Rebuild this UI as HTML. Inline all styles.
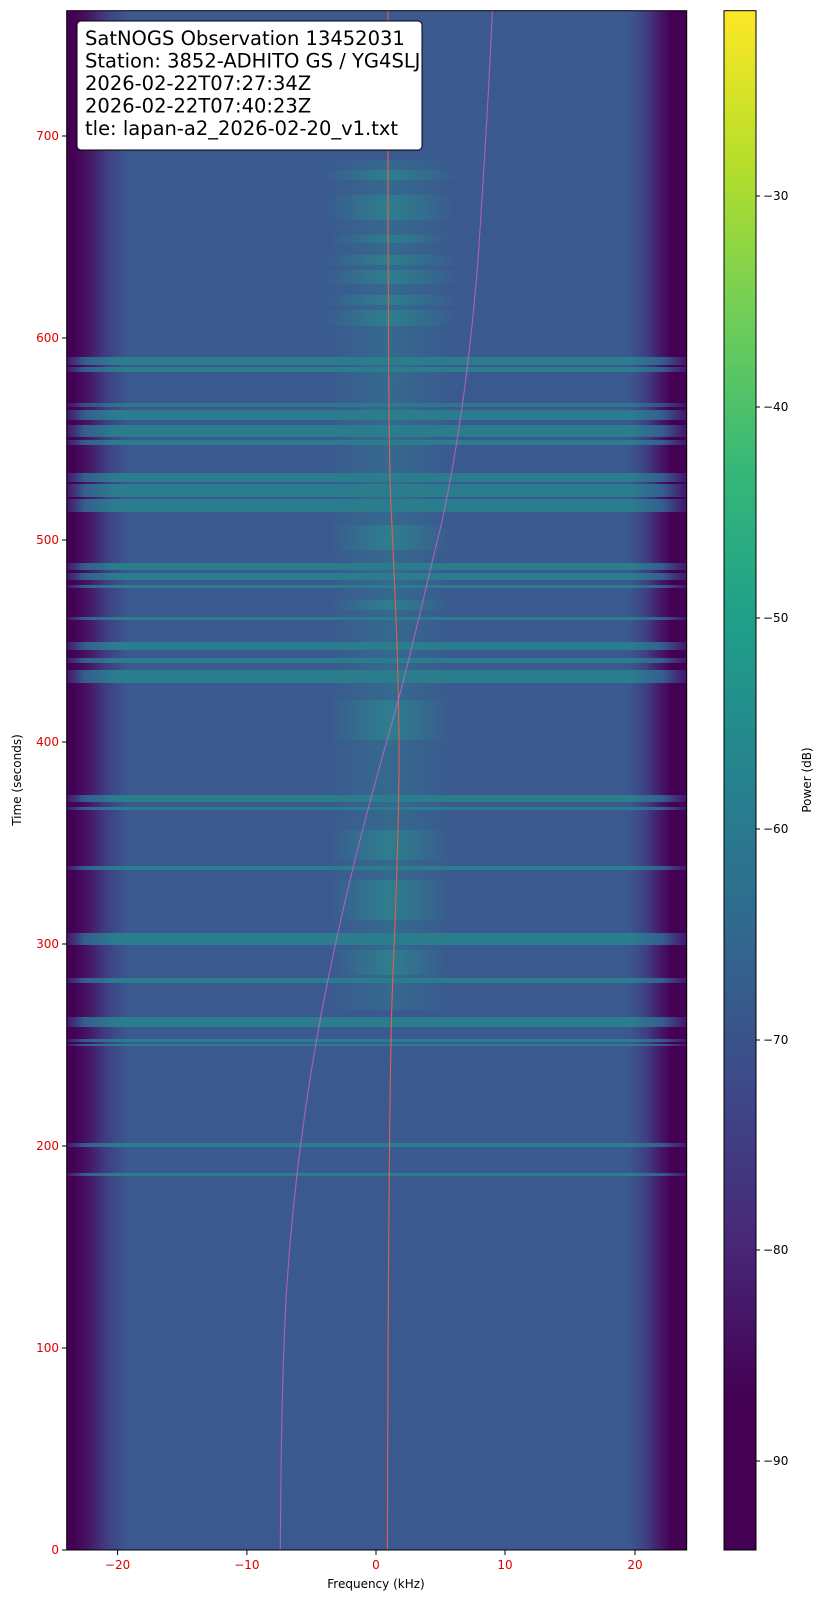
<!DOCTYPE html>
<html><head><meta charset="utf-8"><style>
html,body{margin:0;padding:0;background:#fff;}
svg{display:block;font-family:"DejaVu Sans","Liberation Sans",sans-serif;}
</style></head><body>
<svg width="823" height="1603" viewBox="0 0 823 1603" xmlns="http://www.w3.org/2000/svg">
<defs>
<linearGradient id="edge" x1="0" x2="1" y1="0" y2="0">
<stop offset="0" stop-color="#440154"/>
<stop offset="0.012" stop-color="#440154"/>
<stop offset="0.035" stop-color="#461565"/>
<stop offset="0.065" stop-color="#3f3f84"/>
<stop offset="0.1" stop-color="#3a5a8f"/>
<stop offset="0.905" stop-color="#3a5a8f"/>
<stop offset="0.935" stop-color="#3f3f84"/>
<stop offset="0.96" stop-color="#461565"/>
<stop offset="0.975" stop-color="#440154"/>
<stop offset="1" stop-color="#440154"/>
</linearGradient>
<linearGradient id="band" x1="0" x2="1" y1="0" y2="0">
<stop offset="0" stop-color="#46106a"/>
<stop offset="0.03" stop-color="#335f8d"/>
<stop offset="0.08" stop-color="#2b7d8e"/>
<stop offset="0.91" stop-color="#2b7d8e"/>
<stop offset="0.96" stop-color="#335f8d"/>
<stop offset="1" stop-color="#46106a"/>
</linearGradient>
<linearGradient id="glow" x1="0" x2="1" y1="0" y2="0">
<stop offset="0" stop-color="#2a8a8c" stop-opacity="0"/>
<stop offset="0.5" stop-color="#2a8a8c" stop-opacity="0.6"/>
<stop offset="1" stop-color="#2a8a8c" stop-opacity="0"/>
</linearGradient>
<linearGradient id="cb" x1="0" x2="0" y1="0" y2="1">
<stop offset="0" stop-color="#fde725"/>
<stop offset="0.1" stop-color="#b5de2b"/>
<stop offset="0.2" stop-color="#6ece58"/>
<stop offset="0.3" stop-color="#35b779"/>
<stop offset="0.4" stop-color="#1f9e89"/>
<stop offset="0.5" stop-color="#26828e"/>
<stop offset="0.6" stop-color="#31688e"/>
<stop offset="0.7" stop-color="#3e4989"/>
<stop offset="0.8" stop-color="#482878"/>
<stop offset="0.9" stop-color="#440154"/>
<stop offset="1" stop-color="#440154"/>
</linearGradient>
<clipPath id="pc"><rect x="66.7" y="10.7" width="620" height="1539.3"/></clipPath>
</defs>
<g clip-path="url(#pc)">
<rect x="66.7" y="10.7" width="620" height="1539.3" fill="url(#edge)"/>
<rect x="330" y="160" width="120" height="850" fill="url(#glow)" opacity="0.55"/>
<g fill="url(#glow)">
<rect x="320" y="170" width="140" height="10"/>
<rect x="325" y="195" width="130" height="25"/>
<rect x="330" y="235" width="120" height="8"/>
<rect x="320" y="255" width="140" height="10"/>
<rect x="320" y="270" width="140" height="14"/>
<rect x="320" y="295" width="140" height="10"/>
<rect x="320" y="310" width="140" height="16"/>
<rect x="330" y="600" width="120" height="10"/>
<rect x="330" y="525" width="120" height="25"/>
<rect x="330" y="700" width="120" height="40"/>
<rect x="330" y="830" width="120" height="30"/>
<rect x="330" y="880" width="120" height="40"/>
<rect x="335" y="950" width="110" height="25"/>
</g>
<g fill="url(#band)">
<rect x="66" y="357" width="621" height="8"/>
<rect x="66" y="367" width="621" height="5"/>
<rect x="66" y="403" width="621" height="4" opacity="0.8"/>
<rect x="66" y="410" width="621" height="10"/>
<rect x="66" y="425" width="621" height="12"/>
<rect x="66" y="440" width="621" height="5"/>
<rect x="66" y="473" width="621" height="9"/>
<rect x="66" y="484" width="621" height="13"/>
<rect x="66" y="499" width="621" height="13"/>
<rect x="66" y="563" width="621" height="7"/>
<rect x="66" y="573" width="621" height="7"/>
<rect x="66" y="585" width="621" height="3"/>
<rect x="66" y="617" width="621" height="3"/>
<rect x="66" y="642" width="621" height="8"/>
<rect x="66" y="658" width="621" height="5"/>
<rect x="66" y="670" width="621" height="13"/>
<rect x="66" y="795" width="621" height="7"/>
<rect x="66" y="807" width="621" height="3"/>
<rect x="66" y="866" width="621" height="4"/>
<rect x="66" y="933" width="621" height="12"/>
<rect x="66" y="978" width="621" height="5"/>
<rect x="66" y="1017" width="621" height="10"/>
<rect x="66" y="1039" width="621" height="3"/>
<rect x="66" y="1044" width="621" height="2"/>
<rect x="66" y="1143" width="621" height="4"/>
<rect x="66" y="1173" width="621" height="3"/>
</g>
<path d="M387.4,1550 C388,1300 389,1100 392,1000 C396,900 399,820 399,760 C399,650 393,560 390,480 C388,380 388,200 388,10" fill="none" stroke="#f0604a" stroke-width="1.1" opacity="0.9"/>
<path d="M280.3,1550 C281,1450 282,1380 286,1300 C292,1200 305,1100 322,1010 C345,890 370,800 390,730 C410,660 425,590 440,530 C458,450 470,360 478,260 C484,170 489,90 492.4,10" fill="none" stroke="#d060d0" stroke-width="1.1" opacity="0.75"/>
</g>
<rect x="66.7" y="10.7" width="620" height="1539.3" fill="none" stroke="#000" stroke-width="1"/>
<rect x="77" y="21" width="345" height="129" rx="4" fill="#fff" stroke="#000" stroke-width="1"/>
<g font-size="19.5" fill="#000">
<text x="85" y="45">SatNOGS Observation 13452031</text>
<text x="85" y="67.5">Station: 3852-ADHITO GS / YG4SLJ</text>
<text x="85" y="90">2026-02-22T07:27:34Z</text>
<text x="85" y="112.5">2026-02-22T07:40:23Z</text>
<text x="85" y="135">tle: lapan-a2_2026-02-20_v1.txt</text>
</g>
<g stroke="#000">
<line x1="62" x2="66.7" y1="1550" y2="1550"/><line x1="62" x2="66.7" y1="1348" y2="1348"/>
<line x1="62" x2="66.7" y1="1146" y2="1146"/><line x1="62" x2="66.7" y1="944" y2="944"/>
<line x1="62" x2="66.7" y1="742" y2="742"/><line x1="62" x2="66.7" y1="540" y2="540"/>
<line x1="62" x2="66.7" y1="338" y2="338"/><line x1="62" x2="66.7" y1="136" y2="136"/>
<line x1="117.6" x2="117.6" y1="1550" y2="1555"/><line x1="246.9" x2="246.9" y1="1550" y2="1555"/>
<line x1="376" x2="376" y1="1550" y2="1555"/><line x1="505" x2="505" y1="1550" y2="1555"/>
<line x1="635" x2="635" y1="1550" y2="1555"/>
</g>
<g font-size="12" fill="#e00000" text-anchor="end">
<text x="59" y="1554">0</text><text x="59" y="1352">100</text><text x="59" y="1150">200</text>
<text x="59" y="948">300</text><text x="59" y="746">400</text><text x="59" y="544">500</text>
<text x="59" y="342">600</text><text x="59" y="140">700</text>
</g>
<g font-size="12" fill="#e00000" text-anchor="middle">
<text x="117.6" y="1569">−20</text><text x="246.9" y="1569">−10</text><text x="376" y="1569">0</text>
<text x="505" y="1569">10</text><text x="635" y="1569">20</text>
</g>
<text x="376" y="1588" font-size="12" text-anchor="middle">Frequency (kHz)</text>
<text transform="translate(21,780) rotate(-90)" font-size="12" text-anchor="middle">Time (seconds)</text>
<rect x="724" y="10.7" width="32" height="1539.3" fill="url(#cb)" stroke="#000" stroke-width="1"/>
<g stroke="#000">
<line x1="756" x2="760" y1="196" y2="196"/><line x1="756" x2="760" y1="407" y2="407"/>
<line x1="756" x2="760" y1="618" y2="618"/><line x1="756" x2="760" y1="829" y2="829"/>
<line x1="756" x2="760" y1="1040" y2="1040"/><line x1="756" x2="760" y1="1250" y2="1250"/>
<line x1="756" x2="760" y1="1461" y2="1461"/>
</g>
<g font-size="12" fill="#000">
<text x="763" y="200">−30</text><text x="763" y="411">−40</text><text x="763" y="622">−50</text>
<text x="763" y="833">−60</text><text x="763" y="1044">−70</text><text x="763" y="1254">−80</text>
<text x="763" y="1465">−90</text>
</g>
<text transform="translate(811,780) rotate(-90)" font-size="12" text-anchor="middle">Power (dB)</text>
</svg>
</body></html>
